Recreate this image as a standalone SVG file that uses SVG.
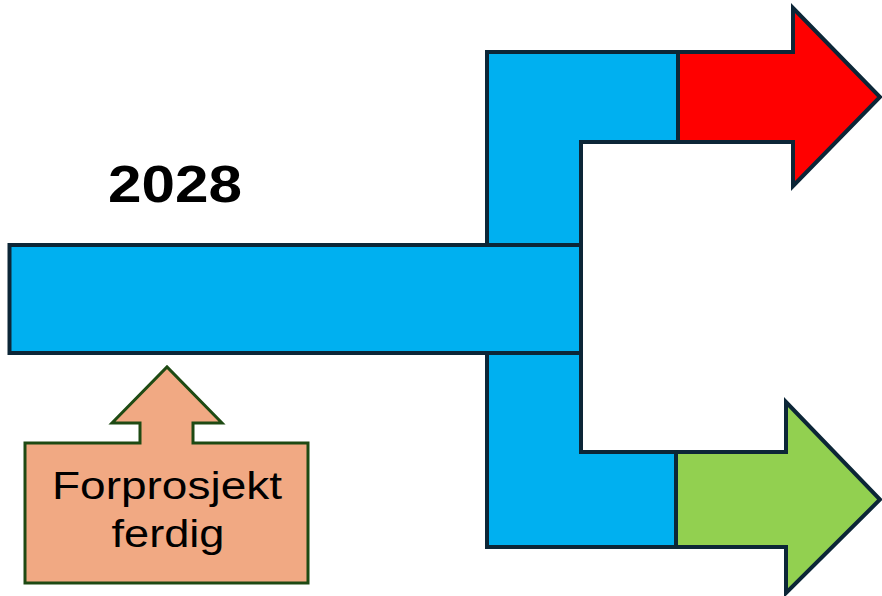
<svg xmlns="http://www.w3.org/2000/svg" width="882" height="596" viewBox="0 0 882 596">
  <style>
    .track { fill: #00b0f0; stroke: #0c2637; stroke-width: 4; stroke-linejoin: miter; }
    .out { stroke: #0c2637; stroke-width: 4; stroke-linejoin: miter; }
    .callout { fill: #f1a983; stroke: #1e4a13; stroke-width: 3; }
    .label { font-family: "Liberation Sans", Arial, sans-serif; font-size: 38px; fill: #000; text-anchor: middle; }
    .year { font-family: "Liberation Sans", Arial, sans-serif; font-weight: bold; font-size: 51px; fill: #000; text-anchor: middle; }
  </style>

  <g id="connectors">
    <!-- upper branch -->
    <polygon id="branch-up" class="track" points="487,52 678,52 678,142 581,142 581,245 487,245"/>
    <!-- lower branch -->
    <polygon id="branch-down" class="track" points="487,353 581,353 581,452 676,452 676,547 487,547"/>
  </g>

  <g id="timeline">
    <rect class="track" x="9.5" y="245" width="571.5" height="108"/>
  </g>

  <g id="year-label">
    <text class="year" x="175" y="202" textLength="134" lengthAdjust="spacingAndGlyphs">2028</text>
  </g>

  <g id="arrow-red">
    <polygon class="out" fill="#ff0000" points="678,52 793,52 793,8 880,97 793,186 793,142 678,142"/>
  </g>

  <g id="arrow-green">
    <polygon class="out" fill="#92d050" points="676,452 786,452 786,402 880,499.5 786,593 786,547 676,547"/>
  </g>

  <g id="milestone">
    <polygon class="callout" points="25,443 140,443 140,423 112,423 167,367 222,423 193,423 193,443 308,443 308,583 25,583"/>
    <text class="label" x="167" y="499" textLength="230" lengthAdjust="spacingAndGlyphs">Forprosjekt</text>
    <text class="label" x="168" y="547" textLength="113" lengthAdjust="spacingAndGlyphs">ferdig</text>
  </g>
</svg>
